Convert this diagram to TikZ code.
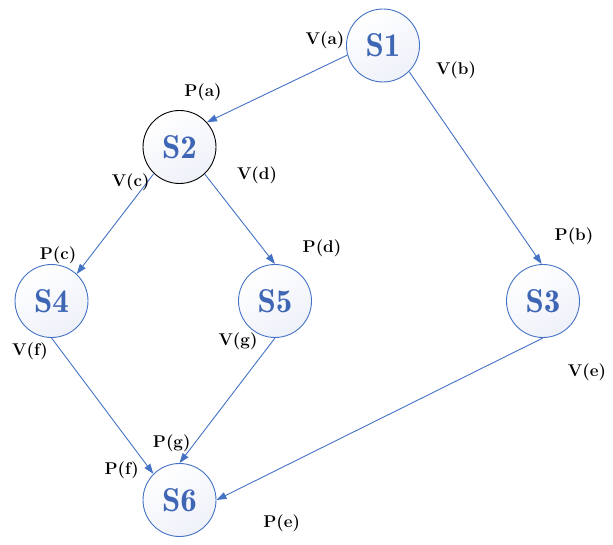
\documentclass[tikz,border=0pt]{standalone}
\usetikzlibrary{arrows.meta}
\definecolor{edgeblue}{RGB}{68,114,196}
\definecolor{textblue}{RGB}{62,102,181}
\definecolor{fillblue}{RGB}{238,241,249}
\tikzset{
  state/.style={circle, draw=edgeblue, line width=0.9pt, minimum size=73pt, inner sep=0pt,
    top color=white, bottom color=fillblue, shading angle=30,
    font=\fontsize{33}{33}\fontseries{b}\selectfont, text=textblue},
  blackstate/.style={state, draw=black},
  conn/.style={draw=edgeblue, line width=0.9pt, -{Triangle[length=10pt,width=7pt]}},
  lab/.style={font=\fontsize{17}{17}\selectfont\bfseries, text=black, inner sep=0pt}
}
\begin{document}
\begin{tikzpicture}[x=1pt,y=-1pt]
\useasboundingbox (0,0) rectangle (613,545);
\node[state] (s1) at (383,45.5) {S1};
\node[blackstate] (s2) at (179.5,147) {S2};
\node[state] (s4) at (51.5,301) {S4};
\node[state] (s5) at (275,301) {S5};
\node[state] (s3) at (543,301) {S3};
\node[state] (s6) at (179.5,500) {S6};
\draw[conn] (s1.195) -- (s2.42);
\draw[conn] (s1.-45) -- (s3.92);
\draw[conn] (s2.226) -- (s4.47);
\draw[conn] (s2.313) -- (s5.90);
\draw[conn] (s4.270) -- (s6.135);
\draw[conn] (s5.270) -- (s6.90);
\draw[conn] (s3.270) -- (s6.0);
\node[lab] (la) at (325,40) {V(a)};
\node[lab] (lb) at (456,70) {V(b)};
\node[lab] (lpa) at (203,92) {P(a)};
\node[lab] (ld) at (257,175.7) {V(d)};
\node[lab] (lc) at (130.7,182) {V(c)};
\node[lab] (lpc) at (58,255.7) {P(c)};
\node[lab] (lpd) at (322,248) {P(d)};
\node[lab] (lg) at (238,341) {V(g)};
\node[lab] (lf) at (30,351.7) {V(f)};
\node[lab] (lpb) at (574,236.7) {P(b)};
\node[lab] (le) at (587,372.7) {V(e)};
\node[lab] (lpg) at (171.7,443.3) {P(g)};
\node[lab] (lpf) at (121.7,470) {P(f)};
\node[lab] (lpe) at (281.7,523.3) {P(e)};
\end{tikzpicture}
\end{document}
